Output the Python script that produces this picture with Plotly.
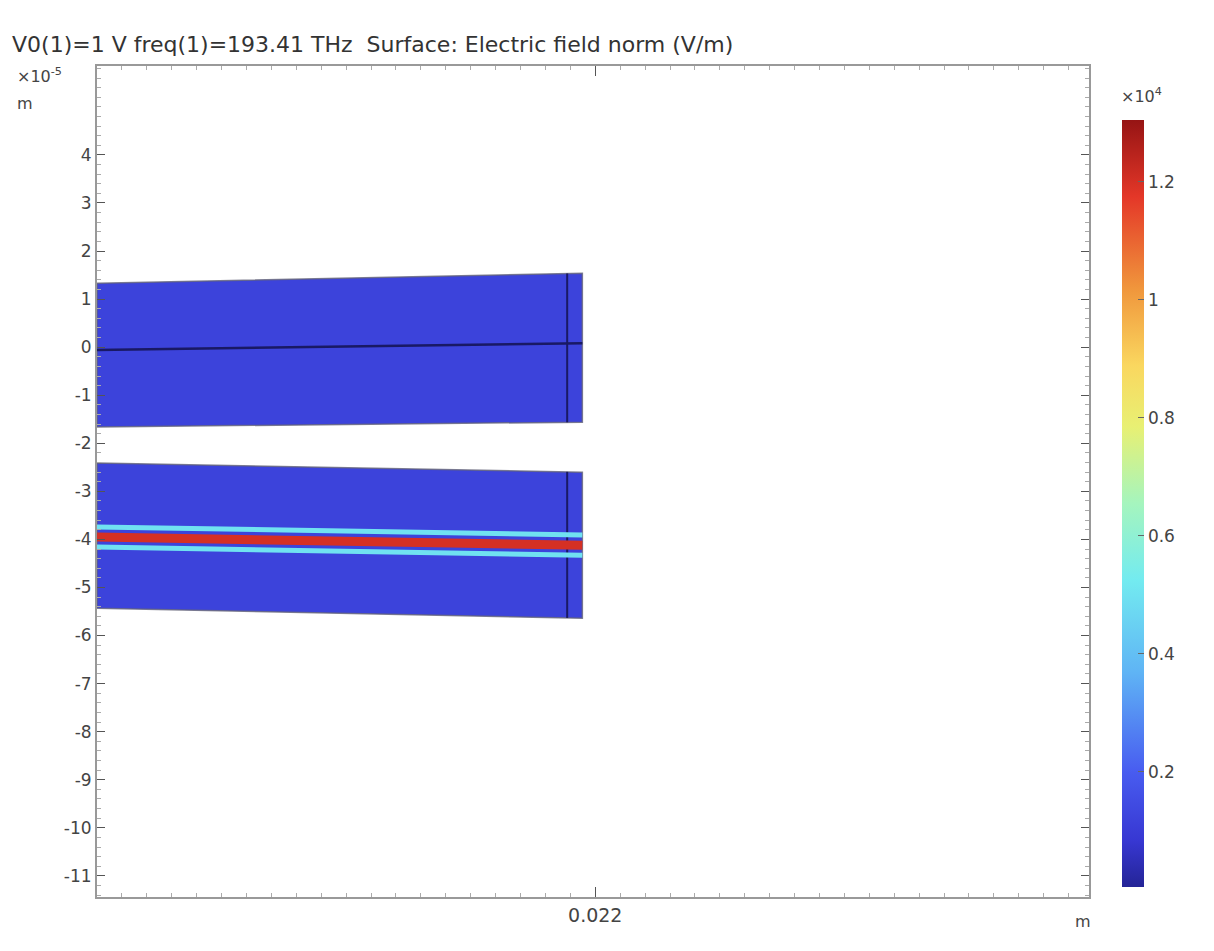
import plotly.graph_objects as go

# geometry (x in m, y in units of 1e-5 m)
x_ends = [0.0, 0.02143]
x_cut = 0.02076  # vertical boundary line inside both guides

upper_top = [1.33, 1.54]
upper_bottom = [-1.66, -1.56]
upper_mid = [-0.06, 0.08]

lower_top = [-2.41, -2.60]
lower_bottom = [-5.43, -5.64]
core_upper = [-3.74, -3.91]
core_mid = [-3.95, -4.12]
core_lower = [-4.16, -4.33]

# field norm (x1e4 V/m) shown by each part
field_bulk = 0.12
field_flank = 0.50
field_core = 1.20
cbar_range = [0.005, 1.305]

y_ticks = [4, 3, 2, 1, 0, -1, -2, -3, -4, -5, -6, -7, -8, -9, -10, -11]
cbar_ticks = [0.2, 0.4, 0.6, 0.8, 1.0, 1.2]
cbar_labels = ["0.2", "0.4", "0.6", "0.8", "1", "1.2"]

rainbow = [
    [0.0, "rgb(36,36,150)"],
    [0.06, "rgb(55,55,210)"],
    [0.15, "rgb(72,92,240)"],
    [0.28, "rgb(95,180,245)"],
    [0.40, "rgb(115,235,240)"],
    [0.50, "rgb(165,245,190)"],
    [0.60, "rgb(232,240,115)"],
    [0.68, "rgb(250,215,95)"],
    [0.78, "rgb(240,150,60)"],
    [0.90, "rgb(228,55,40)"],
    [1.0, "rgb(150,20,20)"],
]


def field_color(v):
    # pick colour from the rainbow scale for a field value
    t = (v - cbar_range[0]) / (cbar_range[1] - cbar_range[0])
    t = min(max(t, 0), 1)
    for (a, ca), (b, cb) in zip(rainbow[:-1], rainbow[1:]):
        if a <= t <= b:
            f = (t - a) / (b - a) if b > a else 0
            pa = [float(s) for s in ca[4:-1].split(",")]
            pb = [float(s) for s in cb[4:-1].split(",")]
            p = [round(pa[i] + f * (pb[i] - pa[i])) for i in range(3)]
            return "rgb(%d,%d,%d)" % tuple(p)
    return rainbow[-1][1]


fig = go.Figure()

bulk = field_color(field_bulk)
for top, bot in [(upper_top, upper_bottom), (lower_top, lower_bottom)]:
    fig.add_trace(go.Scatter(
        x=[x_ends[0], x_ends[1], x_ends[1], x_ends[0], x_ends[0]],
        y=[top[0], top[1], bot[1], bot[0], top[0]],
        mode="lines", fill="toself", fillcolor=bulk,
        line=dict(color="rgba(100,100,120,0.8)", width=1.5),
        hoverinfo="skip", showlegend=False,
    ))
    fig.add_trace(go.Scatter(
        x=[x_cut, x_cut], y=[top[0] + (top[1] - top[0]) * x_cut / x_ends[1],
                              bot[0] + (bot[1] - bot[0]) * x_cut / x_ends[1]],
        mode="lines", line=dict(color="rgb(25,25,100)", width=2),
        hoverinfo="skip", showlegend=False,
    ))

fig.add_trace(go.Scatter(
    x=x_ends, y=upper_mid, mode="lines",
    line=dict(color="rgb(25,25,100)", width=2.5),
    hoverinfo="skip", showlegend=False,
))

for ys, val, w in [(core_upper, field_flank, 5), (core_lower, field_flank, 5),
                   (core_mid, field_core, 9)]:
    fig.add_trace(go.Scatter(
        x=x_ends, y=ys, mode="lines",
        line=dict(color=field_color(val), width=w),
        hoverinfo="skip", showlegend=False,
    ))

# colour legend
fig.add_trace(go.Scatter(
    x=[None, None], y=[None, None], mode="markers",
    marker=dict(
        color=cbar_range, cmin=cbar_range[0], cmax=cbar_range[1],
        colorscale=rainbow, showscale=True, size=0,
        colorbar=dict(
            x=1.033, xanchor="left", xpad=0,
            y=0.4735, yanchor="middle", ypad=0,
            len=767, lenmode="pixels", thickness=22, outlinewidth=0,
            tickvals=cbar_ticks, ticktext=cbar_labels,
            ticks="inside", ticklen=6, tickcolor="#666",
            tickfont=dict(size=17, color="#444"),
        ),
    ),
    hoverinfo="skip", showlegend=False,
))

# page body has an 8px margin, so the figure is shifted by that much
fig.update_layout(
    width=1198, height=935,
    margin=dict(l=89, r=117, t=58, b=46, pad=0),
    plot_bgcolor="white", paper_bgcolor="white",
    font=dict(family="DejaVu Sans", size=16, color="#444"),
    showlegend=False,
)

fig.update_xaxes(
    range=[0, 0.0438], tickvals=[0.022], ticktext=["0.022"],
    tickfont=dict(size=19),
    showgrid=False, zeroline=False,
    showline=True, linecolor="#999", linewidth=2, mirror="allticks",
    ticks="inside", ticklen=10, tickcolor="#555",
    minor=dict(ticks="inside", ticklen=4, tickcolor="#aaa", dtick=0.0011),
)
fig.update_yaxes(
    range=[-11.44, 5.85], tickvals=y_ticks, ticktext=[str(v) for v in y_ticks],
    tickfont=dict(size=17),
    showgrid=False, zeroline=False,
    showline=True, linecolor="#999", linewidth=2, mirror="allticks",
    ticks="inside", ticklen=8, tickcolor="#555",
    minor=dict(ticks="inside", ticklen=4, tickcolor="#aaa", dtick=0.2),
)

ann = dict(xref="paper", yref="paper", showarrow=False)
fig.add_annotation(
    x=-0.0877, y=1.026, xanchor="left", yanchor="middle",
    text="V0(1)=1 V freq(1)=193.41 THz  Surface: Electric field norm (V/m)",
    font=dict(size=22, color="#333"), **ann)
fig.add_annotation(x=-0.083, y=0.989, xanchor="left", yanchor="middle",
                   text="×10<sup>-5</sup>", font=dict(size=16), **ann)
fig.add_annotation(x=-0.083, y=0.955, xanchor="left", yanchor="middle",
                   text="m", font=dict(size=16), **ann)
fig.add_annotation(x=0.994, y=-0.03, xanchor="center", yanchor="middle",
                   text="m", font=dict(size=16), **ann)
fig.add_annotation(x=1.053, y=0.965, xanchor="center", yanchor="middle",
                   text="×10<sup>4</sup>", font=dict(size=16), **ann)

fig.write_html("out.html")
